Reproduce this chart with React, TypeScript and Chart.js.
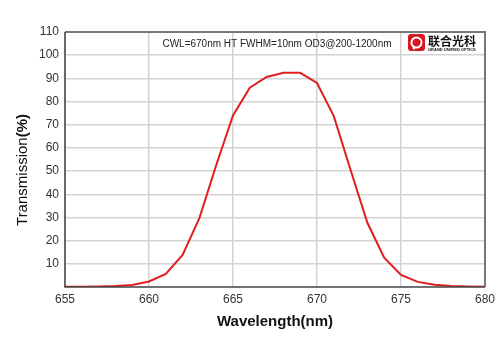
import React, { useEffect, useRef } from "react";
import { Chart, registerables } from "chart.js";

Chart.register(...registerables);

const wavelengths = [655, 656, 657, 658, 659, 660, 661, 662, 663, 664, 665, 666, 667, 668, 669, 670, 671, 672, 673, 674, 675, 676, 677, 678, 679, 680];
const transmission = [0.1, 0.1, 0.2, 0.4, 0.9, 2.4, 5.6, 13.8, 29.7, 52.5, 74.0, 86.0, 90.6, 92.4, 92.4, 88.0, 73.7, 50.5, 27.7, 12.6, 5.2, 2.2, 1.0, 0.4, 0.2, 0.1];
const xTicks = [655, 660, 665, 670, 675, 680];
const yTicks = [10, 20, 30, 40, 50, 60, 70, 80, 90, 100, 110];
const noteText = "CWL=670nm HT FWHM=10nm OD3@200-1200nm";
const logoCn = "联合光科";
const logoEn = "GRAND UNIFIED OPTICS";
const xTitle = "Wavelength(nm)";
const yTitleMain = "Transmission";
const yTitleUnit = "(%)";

const FONT = "'Liberation Sans', Arial, sans-serif";

const decorPlugin = {
  id: "decor",
  afterDraw(chart: any) {
    const { ctx, chartArea } = chart;
    const { left, right, top, bottom } = chartArea;
    ctx.save();
    // top and right border (gray)
    ctx.strokeStyle = "#777";
    ctx.lineWidth = 2;
    ctx.beginPath();
    ctx.moveTo(left, top);
    ctx.lineTo(right, top);
    ctx.lineTo(right, bottom);
    ctx.stroke();
    // left and bottom (dark)
    ctx.strokeStyle = "#444";
    ctx.lineWidth = 1.5;
    ctx.beginPath();
    ctx.moveTo(left, top);
    ctx.lineTo(left, bottom);
    ctx.lineTo(right, bottom);
    ctx.stroke();

    // note text
    ctx.fillStyle = "#222";
    ctx.font = `10px ${FONT}`;
    ctx.textAlign = "center";
    ctx.textBaseline = "middle";
    ctx.fillText(noteText, 277, 44);

    // logo
    const lx = 408, ly = 34;
    ctx.fillStyle = "#d7161e";
    ctx.beginPath();
    (ctx as any).roundRect(lx, ly, 17, 17, 3);
    ctx.fill();
    ctx.strokeStyle = "#fff";
    ctx.lineWidth = 2;
    ctx.beginPath();
    ctx.arc(lx + 8.5, ly + 8.5, 5, -1.2, Math.PI * 1.5 + 0.9);
    ctx.stroke();
    ctx.fillStyle = "#fff";
    ctx.beginPath();
    ctx.arc(lx + 6, ly + 14, 1.5, 0, Math.PI * 2);
    ctx.fill();
    ctx.fillStyle = "#111";
    ctx.textAlign = "left";
    ctx.font = `bold 12px 'Noto Sans CJK SC', sans-serif`;
    ctx.fillText(logoCn, 428, 41);
    ctx.font = `bold 4px ${FONT}`;
    ctx.fillText(logoEn, 428, 50);

    // axis titles
    ctx.fillStyle = "#111";
    ctx.textAlign = "center";
    ctx.textBaseline = "middle";
    ctx.font = `bold 15px ${FONT}`;
    ctx.fillText(xTitle, 275, 322);

    ctx.translate(23, 170);
    ctx.rotate(-Math.PI / 2);
    ctx.font = `15px ${FONT}`;
    const w1 = ctx.measureText(yTitleMain).width;
    ctx.font = `bold 15px ${FONT}`;
    const w2 = ctx.measureText(yTitleUnit).width;
    const start = -(w1 + w2) / 2;
    ctx.textAlign = "left";
    ctx.font = `15px ${FONT}`;
    ctx.fillText(yTitleMain, start, 0);
    ctx.font = `bold 15px ${FONT}`;
    ctx.fillText(yTitleUnit, start + w1, 0);
    ctx.restore();
  },
};

export default function App() {
  const ref = useRef<HTMLCanvasElement>(null);
  useEffect(() => {
    document.body.style.margin = "0";
    const chart = new Chart(ref.current!, {
      type: "line",
      data: {
        datasets: [
          {
            data: wavelengths.map((w, i) => ({ x: w, y: transmission[i] })),
            borderColor: "#e01f1f",
            borderWidth: 2,
            pointRadius: 0,
            tension: 0,
            fill: false,
          },
        ],
      },
      options: {
        animation: false,
        responsive: false,
        maintainAspectRatio: false,
        layout: { padding: { top: 32, right: 15, left: 0, bottom: 0 } },
        plugins: { legend: { display: false }, tooltip: { enabled: false } },
        scales: {
          x: {
            type: "linear",
            min: 655,
            max: 680,
            afterBuildTicks: (s: any) => {
              s.ticks = xTicks.map((v) => ({ value: v }));
            },
            afterFit: (s: any) => {
              s.height = 66;
            },
            grid: { color: "#d4d4d4", lineWidth: 1.5, drawTicks: false },
            border: { display: false },
            ticks: {
              color: "#333",
              font: { family: FONT, size: 12 },
              padding: 5,
              maxRotation: 0,
            },
          },
          y: {
            min: 0,
            max: 110,
            afterBuildTicks: (s: any) => {
              s.ticks = yTicks.map((v) => ({ value: v }));
            },
            afterFit: (s: any) => {
              s.width = 65;
            },
            grid: { color: "#d4d4d4", lineWidth: 1.5, drawTicks: false },
            border: { display: false },
            ticks: {
              color: "#333",
              font: { family: FONT, size: 12 },
              padding: 6,
            },
          },
        },
      },
      plugins: [decorPlugin],
    } as any);
    return () => chart.destroy();
  }, []);
  return (
    <div style={{ width: 500, height: 353, background: "#fff" }}>
      <canvas ref={ref} width={500} height={353} style={{ display: "block" }} />
    </div>
  );
}
